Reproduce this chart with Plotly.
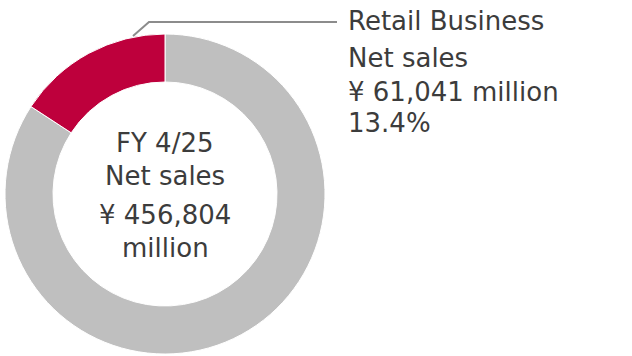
import plotly.graph_objects as go

W, H = 632, 356

# Data (listed in drawing order, clockwise from 12 o'clock)
segments = ["Other businesses", "Retail Business"]
slice_share = [84.2, 15.8]
slice_colors = ["#BFBFBF", "#BE003C"]

center_lines = ["FY 4/25", "Net sales", "¥ 456,804", "million"]
callout_lines = ["Retail Business", "Net sales", "¥ 61,041 million", "13.4%"]

FONT = "DejaVu Sans"
FS = 26
TXT = "#3c3c3c"

def px(x):
    return x / W

def py(y):
    return 1 - y / H

cx, cy, r = 165, 194, 160

fig = go.Figure()
fig.add_trace(go.Pie(
    labels=segments,
    values=slice_share,
    hole=0.70,
    sort=False,
    direction="clockwise",
    rotation=0,
    marker=dict(colors=slice_colors, line=dict(color="white", width=1)),
    textinfo="none",
    hoverinfo="skip",
    showlegend=False,
    domain=dict(x=[px(cx - r), px(cx + r)], y=[py(cy + r), py(cy - r)]),
))

center_y = [143, 176, 215, 247.5]
for t, y in zip(center_lines, center_y):
    fig.add_annotation(text=t, x=px(cx), y=py(y), xref="paper", yref="paper",
                       xanchor="center", yanchor="middle", showarrow=False,
                       font=dict(family=FONT, size=FS, color=TXT))

callout_y = [21, 58.5, 92, 123]
for t, y in zip(callout_lines, callout_y):
    fig.add_annotation(text=t, x=px(346), y=py(y), xref="paper", yref="paper",
                       xanchor="left", yanchor="middle", showarrow=False,
                       font=dict(family=FONT, size=FS, color=TXT))

# leader line
fig.add_shape(type="path",
              path=f"M {px(133)} {py(36)} L {px(149)} {py(22)} L {px(337)} {py(22)}",
              xref="paper", yref="paper",
              line=dict(color="#8c8c8c", width=2))

fig.update_layout(width=W, height=H, margin=dict(l=0, r=0, t=0, b=0),
                  paper_bgcolor="white", plot_bgcolor="white")
fig.write_html("out.html", config={"displayModeBar": False},
               post_script="document.body.style.margin='0';")
